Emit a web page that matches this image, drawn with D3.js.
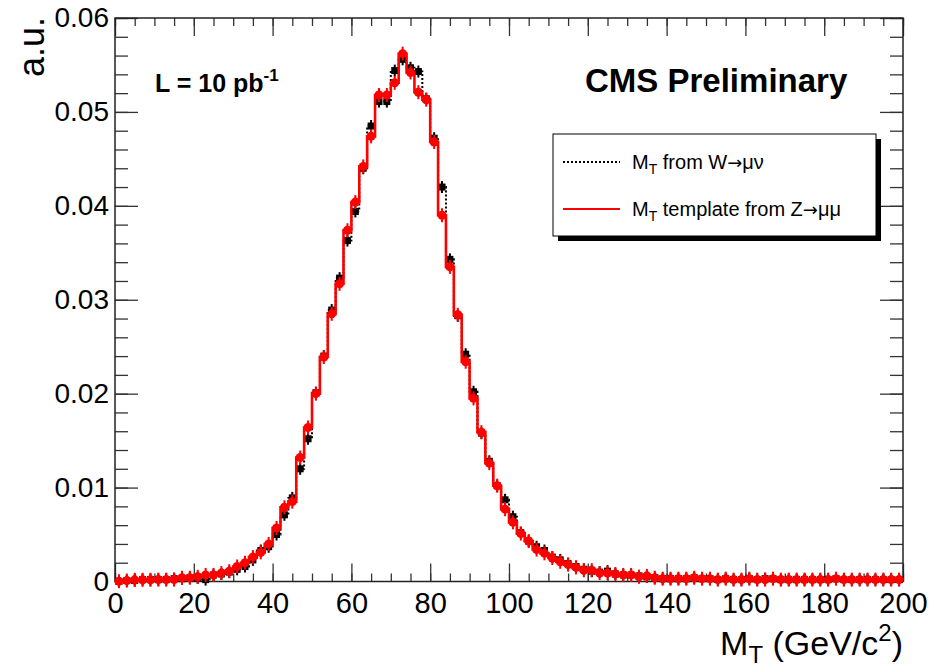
<!DOCTYPE html>
<meta charset="utf-8">

<!-- Load d3.js -->
<script src="https://d3js.org/d3.v7.min.js"></script>

<body>
    <div id="viz"></div>
</body>

<style>
    body {
        margin : 0;
        background : white;
    }

    text {
        font-family : "Liberation Sans", Arial, Helvetica, sans-serif;
        fill : black;
    }
</style>

<script>
    let margin = {top : 18, right : 41, bottom : 85.5, left : 115},
    width = 944 - margin.left - margin.right, height = 667 - margin.top - margin.bottom;

    // 2 GeV bins from 0 to 200 (low edges)
    let binEdges = d3.range(0, 200, 2);

    // M_T from W -> mu nu (black)
    let mtW = [
        0.0000, 0.0001, 0.0001, 0.0002, 0.0002, 0.0002, 0.0002, 0.0003, 0.0003, 0.0004,
        0.0004, 0.0002, 0.0007, 0.0008, 0.0010, 0.0013, 0.0016, 0.0023, 0.0033, 0.0037,
        0.0050, 0.0071, 0.0089, 0.0120, 0.0152, 0.0201, 0.0240, 0.0289, 0.0323, 0.0363,
        0.0394, 0.0440, 0.0485, 0.0511, 0.0511, 0.0544, 0.0556, 0.0547, 0.0543, 0.0514,
        0.0472, 0.0420, 0.0343, 0.0283, 0.0242, 0.0202, 0.0158, 0.0128, 0.0102, 0.0087,
        0.0069, 0.0052, 0.0043, 0.0037, 0.0033, 0.0026, 0.0023, 0.0019, 0.0016, 0.0013,
        0.0011, 0.0010, 0.0011, 0.0008, 0.0007, 0.0007, 0.0006, 0.0005, 0.0004, 0.0003,
        0.0003, 0.0003, 0.0003, 0.0004, 0.0003, 0.0003, 0.0002, 0.0003, 0.0002, 0.0002,
        0.0003, 0.0002, 0.0003, 0.0003, 0.0002, 0.0002, 0.0002, 0.0002, 0.0002, 0.0002,
        0.0002, 0.0003, 0.0002, 0.0002, 0.0002, 0.0002, 0.0002, 0.0002, 0.0002, 0.0002
    ];

    // M_T template from Z -> mu mu (red)
    let mtZ = [
        0.00003, 0.0001, 0.00018, 0.00018, 0.00018, 0.0002, 0.0002, 0.0002, 0.0004, 0.0004,
        0.0005, 0.0007, 0.0007, 0.0009, 0.0011, 0.0016, 0.0020, 0.0026, 0.0031, 0.0040,
        0.0057, 0.0079, 0.0085, 0.0132, 0.0164, 0.0200, 0.0239, 0.0285, 0.0317, 0.0374,
        0.0404, 0.0442, 0.0474, 0.0518, 0.0518, 0.0531, 0.0562, 0.0542, 0.0521, 0.0513,
        0.0468, 0.0390, 0.0335, 0.0284, 0.0234, 0.0195, 0.0159, 0.0126, 0.0102, 0.0077,
        0.0063, 0.0051, 0.0043, 0.0034, 0.0030, 0.0025, 0.0021, 0.0018, 0.0015, 0.0012,
        0.0012, 0.0009, 0.0009, 0.0008, 0.0007, 0.0007, 0.0005, 0.0006, 0.0004, 0.0003,
        0.0003, 0.0003, 0.0003, 0.0004, 0.0003, 0.0003, 0.0002, 0.0003, 0.0002, 0.0002,
        0.0003, 0.0002, 0.0002, 0.0003, 0.0002, 0.0002, 0.0002, 0.0002, 0.0002, 0.0002,
        0.0002, 0.0003, 0.0002, 0.0002, 0.0002, 0.0002, 0.0002, 0.0002, 0.0002, 0.0002
    ];

    let xMajor = [0, 20, 40, 60, 80, 100, 120, 140, 160, 180, 200];
    let xMinor = d3.range(0, 201, 5);
    let yMajor = [0, 0.01, 0.02, 0.03, 0.04, 0.05, 0.06];
    let yMajorLabels = ["0", "0.01", "0.02", "0.03", "0.04", "0.05", "0.06"];
    let yMinor = d3.range(0, 0.0601, 0.002);

    let svg = d3.select("#viz")
    .append("svg")
        .attr("width", 944)
        .attr("height", 667)
    .append("g")
        .attr("transform", `translate(${margin.left}, ${margin.top})`);

    let x = d3.scaleLinear().domain([0, 200]).range([0, width]);
    let y = d3.scaleLinear().domain([0, 0.06]).range([height, 0]);

    //ticks on all four sides, pointing inward
    function styleAxis(g) {
        g.select(".domain").remove();
        g.selectAll(".tick line").attr("stroke", "#333").attr("stroke-width", 1.3);
    }

    svg.append("g")
        .attr("transform", `translate(0,${height})`)
        .call(d3.axisBottom(x).tickValues(xMinor).tickSize(-8).tickFormat(""))
        .call(styleAxis);
    let xAxis = svg.append("g")
        .attr("transform", `translate(0,${height})`)
        .call(d3.axisBottom(x).tickValues(xMajor).tickSize(-18).tickPadding(11).tickFormat(d3.format("d")))
        .call(styleAxis);
    xAxis.selectAll(".tick text")
        .attr("font-size", 29)
        .attr("font-family", "Liberation Sans, Arial, sans-serif");

    svg.append("g")
        .call(d3.axisTop(x).tickValues(xMinor).tickSize(-8).tickFormat(""))
        .call(styleAxis);
    svg.append("g")
        .call(d3.axisTop(x).tickValues(xMajor).tickSize(-18).tickFormat(""))
        .call(styleAxis);

    svg.append("g")
        .call(d3.axisLeft(y).tickValues(yMinor).tickSize(-13).tickFormat(""))
        .call(styleAxis);
    let yAxis = svg.append("g")
        .call(d3.axisLeft(y).tickValues(yMajor).tickSize(-23).tickPadding(6).tickFormat((d, i) => yMajorLabels[i]))
        .call(styleAxis);
    yAxis.selectAll(".tick text")
        .attr("font-size", 28)
        .attr("font-family", "Liberation Sans, Arial, sans-serif");

    svg.append("g")
        .attr("transform", `translate(${width},0)`)
        .call(d3.axisRight(y).tickValues(yMinor).tickSize(-13).tickFormat(""))
        .call(styleAxis);
    svg.append("g")
        .attr("transform", `translate(${width},0)`)
        .call(d3.axisRight(y).tickValues(yMajor).tickSize(-23).tickFormat(""))
        .call(styleAxis);

    //frame
    svg.append("rect")
        .attr("x", 0)
        .attr("y", 0)
        .attr("width", width)
        .attr("height", height)
        .attr("fill", "none")
        .attr("stroke", "#222")
        .attr("stroke-width", 1.5);

    //histogram step line
    let stepLine = d3.line()
        .x(d => x(d[0]))
        .y(d => y(d[1]))
        .curve(d3.curveStepAfter);

    function histPoints(values) {
        let pts = binEdges.map((e, i) => [e, values[i]]);
        pts.push([200, values[values.length - 1]]);
        return pts;
    }

    // W (black, dotted)
    svg.append("path")
        .datum(histPoints(mtW))
        .attr("d", stepLine)
        .attr("fill", "none")
        .attr("stroke", "black")
        .attr("stroke-width", 2)
        .attr("stroke-dasharray", "2,2");

    let wPts = svg.append("g");
    wPts.selectAll("line")
        .data(mtW)
        .enter()
        .append("line")
            .attr("x1", (d, i) => x(binEdges[i] + 1))
            .attr("x2", (d, i) => x(binEdges[i] + 1))
            .attr("y1", d => y(d) - 6)
            .attr("y2", d => y(d) + 6)
            .attr("stroke", "black")
            .attr("stroke-width", 2);
    wPts.selectAll("rect")
        .data(mtW)
        .enter()
        .append("rect")
            .attr("x", (d, i) => x(binEdges[i] + 1) - 3.5)
            .attr("y", d => y(d) - 3.5)
            .attr("width", 7)
            .attr("height", 7)
            .attr("fill", "black");

    // Z template (red, solid)
    svg.append("path")
        .datum(histPoints(mtZ))
        .attr("d", stepLine)
        .attr("fill", "none")
        .attr("stroke", "#ff0000")
        .attr("stroke-width", 2.6);

    let zPts = svg.append("g");
    zPts.selectAll("line")
        .data(mtZ)
        .enter()
        .append("line")
            .attr("x1", (d, i) => x(binEdges[i] + 1))
            .attr("x2", (d, i) => x(binEdges[i] + 1))
            .attr("y1", d => y(d) - 7)
            .attr("y2", d => y(d) + 7)
            .attr("stroke", "#ff0000")
            .attr("stroke-width", 2);
    zPts.selectAll("circle")
        .data(mtZ)
        .enter()
        .append("circle")
            .attr("cx", (d, i) => x(binEdges[i] + 1))
            .attr("cy", d => y(d))
            .attr("r", 4.5)
            .attr("fill", "#ff0000");

    //texts
    let root = d3.select("#viz > svg");

    root.append("text")
        .attr("transform", "translate(44,17) rotate(-90)")
        .attr("text-anchor", "end")
        .style("font-size", "36px")
        .text("a.u.");

    let xTitle = root.append("text")
        .attr("x", 903)
        .attr("y", 655)
        .attr("text-anchor", "end")
        .style("font-size", "34px");
    xTitle.append("tspan").text("M");
    xTitle.append("tspan").attr("dy", 8).style("font-size", "24px").text("T");
    xTitle.append("tspan").attr("dy", -8).text(" (GeV/c");
    xTitle.append("tspan").attr("dy", -14).style("font-size", "24px").text("2");
    xTitle.append("tspan").attr("dy", 14).text(")");

    let lumi = root.append("text")
        .attr("x", 155)
        .attr("y", 92)
        .style("font-size", "25px")
        .style("font-weight", "bold");
    lumi.append("tspan").text("L = 10 pb");
    lumi.append("tspan").attr("dy", -11).style("font-size", "17px").text("-1");

    root.append("text")
        .attr("x", 585)
        .attr("y", 92)
        .style("font-size", "33px")
        .style("font-weight", "bold")
        .text("CMS Preliminary");

    //legend
    let legend = root.append("g")
        .attr("transform", "translate(553,134)");
    legend.append("rect")
        .attr("x", 5)
        .attr("y", 5)
        .attr("width", 323)
        .attr("height", 102)
        .attr("fill", "black");
    legend.append("rect")
        .attr("x", 0)
        .attr("y", 0)
        .attr("width", 323)
        .attr("height", 102)
        .attr("fill", "white")
        .attr("stroke", "black")
        .attr("stroke-width", 1);

    let entries = [
        {pre : " from W", post : "\u03bc\u03bd", color : "black", dash : "2,2", yy : 28},
        {pre : " template from Z", post : "\u03bc\u03bc", color : "#ff0000", dash : null, yy : 75}
    ];
    entries.forEach(function(e) {
        legend.append("line")
            .attr("x1", 10)
            .attr("x2", 67)
            .attr("y1", e.yy)
            .attr("y2", e.yy)
            .attr("stroke", e.color)
            .attr("stroke-width", 2)
            .attr("stroke-dasharray", e.dash);
        let t = legend.append("text")
            .attr("x", 79)
            .attr("y", e.yy + 7)
            .style("font-size", "20px");
        t.append("tspan").text("M");
        t.append("tspan").attr("dy", 5).style("font-size", "14px").text("T");
        t.append("tspan").attr("dy", -5).text(e.pre);
        t.append("tspan").style("font-family", "DejaVu Sans").style("font-size", "18px").text("\u2192");
        t.append("tspan").text(e.post);
    });
</script>
